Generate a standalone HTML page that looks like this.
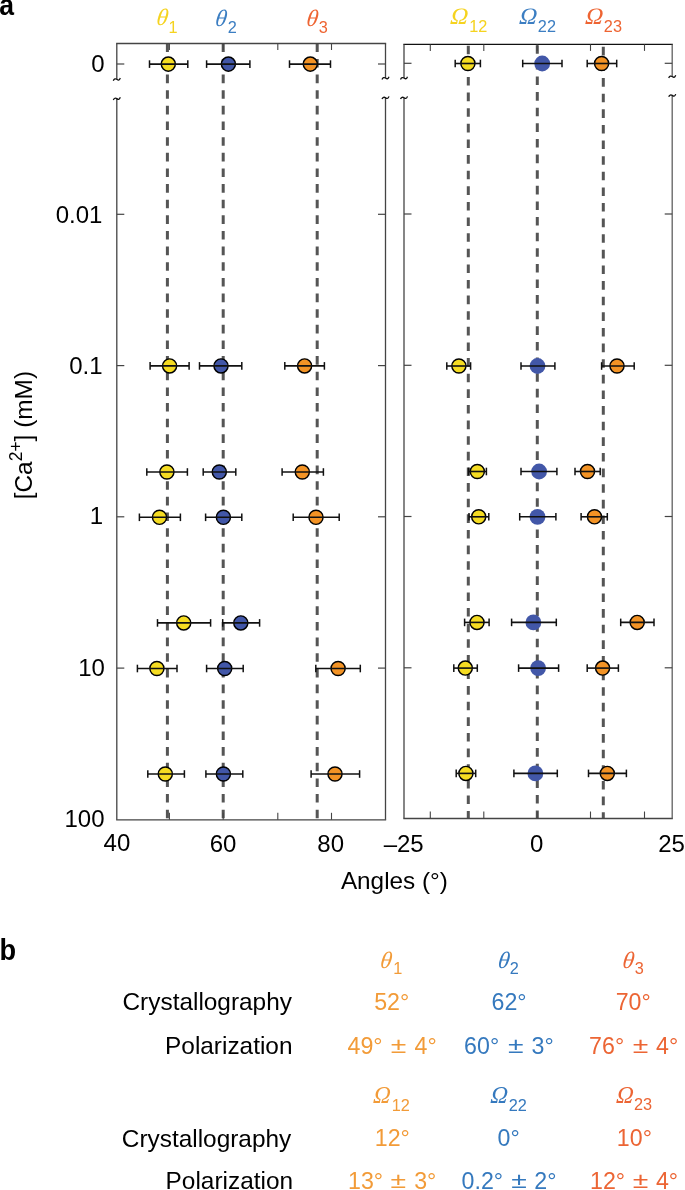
<!DOCTYPE html>
<html><head><meta charset="utf-8"><style>
html,body{margin:0;padding:0;background:#fff;}
body{width:685px;height:1190px;overflow:hidden;position:relative;}
svg{position:absolute;left:0;top:0;will-change:transform;}
.s{font-family:"Liberation Sans",sans-serif;}
.g{font-family:"Liberation Serif",serif;font-style:italic;}
</style></head><body>
<svg width="685" height="1190" viewBox="0 0 685 1190">
<text transform="translate(91.25,72.10)" class="s" font-size="24.00" fill="#000">0</text>
<text transform="translate(55.70,222.85)" class="s" font-size="24.00" fill="#000">0.01</text>
<text transform="translate(69.25,374.10)" class="s" font-size="24.00" fill="#000">0.1</text>
<text transform="translate(89.70,524.05)" class="s" font-size="24.00" fill="#000">1</text>
<text transform="translate(78.15,675.65)" class="s" font-size="24.00" fill="#000">10</text>
<text transform="translate(64.50,827.20)" class="s" font-size="24.00" fill="#000">100</text>
<text transform="translate(103.60,851.25)" class="s" font-size="24.00" fill="#000">40</text>
<text transform="translate(209.70,851.75)" class="s" font-size="24.00" fill="#000">60</text>
<text transform="translate(317.30,851.75)" class="s" font-size="24.00" fill="#000">80</text>
<text transform="translate(383.65,851.75)" class="s" font-size="24.00" fill="#000">–25</text>
<text transform="translate(530.00,851.75)" class="s" font-size="24.00" fill="#000">0</text>
<text transform="translate(658.25,851.75)" class="s" font-size="24.00" fill="#000">25</text>
<text transform="translate(340.90,888.50)" class="s" font-size="24.30" fill="#000">Angles (°)</text>
<text transform="translate(155.75,25.45) skewX(-8)" class="g" font-size="23.50" fill="#F5D31F">θ</text>
<text transform="translate(168.55,32.75)" class="s" font-size="16.30" fill="#F5D31F">1</text>
<text transform="translate(214.60,25.70) skewX(-8)" class="g" font-size="23.50" fill="#3C7EC2">θ</text>
<text transform="translate(227.85,33.00)" class="s" font-size="16.30" fill="#3C7EC2">2</text>
<text transform="translate(305.65,25.70) skewX(-8)" class="g" font-size="23.50" fill="#EE6432">θ</text>
<text transform="translate(318.80,33.30)" class="s" font-size="16.30" fill="#EE6432">3</text>
<text transform="translate(449.85,24.00) scale(1.050,1) skewX(-5)" class="g" font-size="23.50" fill="#F5D31F">Ω</text>
<text transform="translate(469.30,31.75)" class="s" font-size="16.30" fill="#F5D31F">12</text>
<text transform="translate(518.65,24.45) scale(1.050,1) skewX(-5)" class="g" font-size="23.50" fill="#3C7EC2">Ω</text>
<text transform="translate(537.85,31.80)" class="s" font-size="16.30" fill="#3C7EC2">22</text>
<text transform="translate(584.65,24.45) scale(1.050,1) skewX(-5)" class="g" font-size="23.50" fill="#EE6432">Ω</text>
<text transform="translate(603.85,31.80)" class="s" font-size="16.30" fill="#EE6432">23</text>
<text transform="translate(122.50,1010.25)" class="s" font-size="24.40" fill="#000">Crystallography</text>
<text transform="translate(165.05,1054.25)" class="s" font-size="24.40" fill="#000">Polarization</text>
<text transform="translate(121.80,1147.00)" class="s" font-size="24.40" fill="#000">Crystallography</text>
<text transform="translate(165.60,1189.25)" class="s" font-size="24.40" fill="#000">Polarization</text>
<text transform="translate(379.50,967.55) skewX(-8)" class="g" font-size="23.50" fill="#F29B38">θ</text>
<text transform="translate(393.30,974.40)" class="s" font-size="16.30" fill="#F29B38">1</text>
<text transform="translate(497.15,967.55) skewX(-8)" class="g" font-size="23.50" fill="#3579BE">θ</text>
<text transform="translate(509.80,974.25)" class="s" font-size="16.30" fill="#3579BE">2</text>
<text transform="translate(621.85,967.55) skewX(-8)" class="g" font-size="23.50" fill="#EC6534">θ</text>
<text transform="translate(634.75,974.25)" class="s" font-size="16.30" fill="#EC6534">3</text>
<text transform="translate(372.80,1102.50) scale(0.990,1) skewX(-5)" class="g" font-size="24.20" fill="#F29B38">Ω</text>
<text transform="translate(391.80,1110.80)" class="s" font-size="16.30" fill="#F29B38">12</text>
<text transform="translate(490.00,1102.70) scale(0.990,1) skewX(-5)" class="g" font-size="24.20" fill="#3579BE">Ω</text>
<text transform="translate(508.65,1110.75)" class="s" font-size="16.30" fill="#3579BE">22</text>
<text transform="translate(615.65,1102.70) scale(0.990,1) skewX(-5)" class="g" font-size="24.20" fill="#EC6534">Ω</text>
<text transform="translate(633.90,1110.45)" class="s" font-size="16.30" fill="#EC6534">23</text>
<text transform="translate(374.15,1010.40)" class="s" font-size="23.20" fill="#F29B38">52°</text>
<text transform="translate(491.55,1010.40)" class="s" font-size="23.20" fill="#3579BE">62°</text>
<text transform="translate(615.70,1010.40)" class="s" font-size="23.20" fill="#EC6534">70°</text>
<text transform="translate(347.50,1053.85)" class="s" font-size="23.20" fill="#F29B38">49°</text>
<text transform="translate(390.85,1053.05) scale(1.290,1)" class="s" font-size="22.00" fill="#F29B38">±</text>
<text transform="translate(414.55,1053.85)" class="s" font-size="23.20" fill="#F29B38">4°</text>
<text transform="translate(464.10,1053.85)" class="s" font-size="23.20" fill="#3579BE">60°</text>
<text transform="translate(507.95,1053.05) scale(1.290,1)" class="s" font-size="22.00" fill="#3579BE">±</text>
<text transform="translate(531.50,1053.85)" class="s" font-size="23.20" fill="#3579BE">3°</text>
<text transform="translate(589.10,1053.85)" class="s" font-size="23.20" fill="#EC6534">76°</text>
<text transform="translate(632.70,1053.05) scale(1.290,1)" class="s" font-size="22.00" fill="#EC6534">±</text>
<text transform="translate(656.10,1053.85)" class="s" font-size="23.20" fill="#EC6534">4°</text>
<text transform="translate(374.75,1146.45)" class="s" font-size="23.20" fill="#F29B38">12°</text>
<text transform="translate(497.55,1146.45)" class="s" font-size="23.20" fill="#3579BE">0°</text>
<text transform="translate(616.85,1146.45)" class="s" font-size="23.20" fill="#EC6534">10°</text>
<text transform="translate(348.00,1188.60)" class="s" font-size="23.20" fill="#F29B38">13°</text>
<text transform="translate(390.60,1187.80) scale(1.290,1)" class="s" font-size="22.00" fill="#F29B38">±</text>
<text transform="translate(414.20,1188.60)" class="s" font-size="23.20" fill="#F29B38">3°</text>
<text transform="translate(461.60,1188.60)" class="s" font-size="23.20" fill="#3579BE">0.2°</text>
<text transform="translate(511.25,1187.80) scale(1.290,1)" class="s" font-size="22.00" fill="#3579BE">±</text>
<text transform="translate(534.25,1188.60)" class="s" font-size="23.20" fill="#3579BE">2°</text>
<text transform="translate(590.00,1188.60)" class="s" font-size="23.20" fill="#EC6534">12°</text>
<text transform="translate(632.65,1187.80) scale(1.290,1)" class="s" font-size="22.00" fill="#EC6534">±</text>
<text transform="translate(655.90,1188.60)" class="s" font-size="23.20" fill="#EC6534">4°</text>
<text transform="translate(-0.8,15.4) scale(0.9,1)" class="s" font-size="29.5" font-weight="bold" fill="#000">a</text>
<text transform="translate(-0.6,960.4) scale(0.95,1)" class="s" font-size="28.6" font-weight="bold" fill="#000">b</text>
<text transform="translate(32,499.3) rotate(-90)" class="s" font-size="24.4" fill="#000">[Ca<tspan dy="-10" font-size="17.5">2+</tspan><tspan dy="10">] (mM)</tspan></text>
<line x1="167.4" y1="43.30" x2="167.4" y2="819.80" stroke="#555" stroke-width="3" stroke-dasharray="8.6 7.04"/>
<line x1="223.2" y1="43.30" x2="223.2" y2="819.80" stroke="#555" stroke-width="3" stroke-dasharray="8.6 7.04"/>
<line x1="317.2" y1="43.30" x2="317.2" y2="819.80" stroke="#555" stroke-width="3" stroke-dasharray="8.6 7.04"/>
<line x1="116.15" y1="43.50" x2="386.15" y2="43.50" stroke="#444" stroke-width="1.3"/>
<line x1="116.15" y1="819.80" x2="386.15" y2="819.80" stroke="#444" stroke-width="1.3"/>
<line x1="116.8" y1="43.50" x2="116.8" y2="79.30" stroke="#444" stroke-width="1.3"/>
<line x1="116.8" y1="98.60" x2="116.8" y2="819.80" stroke="#444" stroke-width="1.3"/>
<path d="M113.30,80.70 C114.10,78.80 115.50,78.40 116.80,79.30 S119.30,80.80 120.30,78.00" fill="none" stroke="#111" stroke-width="1.3"/>
<path d="M113.30,100.00 C114.10,98.10 115.50,97.70 116.80,98.60 S119.30,100.10 120.30,97.30" fill="none" stroke="#111" stroke-width="1.3"/>
<line x1="385.5" y1="43.50" x2="385.5" y2="78.00" stroke="#444" stroke-width="1.3"/>
<line x1="385.5" y1="97.70" x2="385.5" y2="819.80" stroke="#444" stroke-width="1.3"/>
<path d="M382.00,79.40 C382.80,77.50 384.20,77.10 385.50,78.00 S388.00,79.50 389.00,76.70" fill="none" stroke="#111" stroke-width="1.3"/>
<path d="M382.00,99.10 C382.80,97.20 384.20,96.80 385.50,97.70 S388.00,99.20 389.00,96.40" fill="none" stroke="#111" stroke-width="1.3"/>
<line x1="169.4" y1="43.50" x2="169.4" y2="50.00" stroke="#444" stroke-width="1.1"/>
<line x1="169.4" y1="819.80" x2="169.4" y2="812.80" stroke="#444" stroke-width="1.1"/>
<line x1="223.2" y1="43.50" x2="223.2" y2="50.00" stroke="#444" stroke-width="1.1"/>
<line x1="223.2" y1="819.80" x2="223.2" y2="812.80" stroke="#444" stroke-width="1.1"/>
<line x1="277.8" y1="43.50" x2="277.8" y2="50.00" stroke="#444" stroke-width="1.1"/>
<line x1="277.8" y1="819.80" x2="277.8" y2="812.80" stroke="#444" stroke-width="1.1"/>
<line x1="331.5" y1="43.50" x2="331.5" y2="50.00" stroke="#444" stroke-width="1.1"/>
<line x1="331.5" y1="819.80" x2="331.5" y2="812.80" stroke="#444" stroke-width="1.1"/>
<line x1="116.8" y1="64.00" x2="124.3" y2="64.00" stroke="#444" stroke-width="1.2"/>
<line x1="385.5" y1="64.00" x2="378" y2="64.00" stroke="#444" stroke-width="1.2"/>
<line x1="116.8" y1="214.30" x2="124.3" y2="214.30" stroke="#444" stroke-width="1.2"/>
<line x1="385.5" y1="214.30" x2="378" y2="214.30" stroke="#444" stroke-width="1.2"/>
<line x1="116.8" y1="365.60" x2="124.3" y2="365.60" stroke="#444" stroke-width="1.2"/>
<line x1="385.5" y1="365.60" x2="378" y2="365.60" stroke="#444" stroke-width="1.2"/>
<line x1="116.8" y1="516.80" x2="124.3" y2="516.80" stroke="#444" stroke-width="1.2"/>
<line x1="385.5" y1="516.80" x2="378" y2="516.80" stroke="#444" stroke-width="1.2"/>
<line x1="116.8" y1="668.10" x2="124.3" y2="668.10" stroke="#444" stroke-width="1.2"/>
<line x1="385.5" y1="668.10" x2="378" y2="668.10" stroke="#444" stroke-width="1.2"/>
<circle cx="168.3" cy="64.1" r="7.05" fill="#F5DC22" stroke="#000" stroke-width="1.45"/>
<line x1="149.5" y1="64.10" x2="187.8" y2="64.10" stroke="#111" stroke-width="1.6"/>
<line x1="149.5" y1="60.30" x2="149.5" y2="67.90" stroke="#111" stroke-width="1.5"/>
<line x1="187.8" y1="60.30" x2="187.8" y2="67.90" stroke="#111" stroke-width="1.5"/>
<circle cx="228.4" cy="64.1" r="7.05" fill="#4257A8" stroke="#000" stroke-width="1.45"/>
<line x1="206.6" y1="64.10" x2="249.9" y2="64.10" stroke="#111" stroke-width="1.6"/>
<line x1="206.6" y1="60.30" x2="206.6" y2="67.90" stroke="#111" stroke-width="1.5"/>
<line x1="249.9" y1="60.30" x2="249.9" y2="67.90" stroke="#111" stroke-width="1.5"/>
<circle cx="310.3" cy="64.1" r="7.05" fill="#F39325" stroke="#000" stroke-width="1.45"/>
<line x1="289.5" y1="64.10" x2="330.5" y2="64.10" stroke="#111" stroke-width="1.6"/>
<line x1="289.5" y1="60.30" x2="289.5" y2="67.90" stroke="#111" stroke-width="1.5"/>
<line x1="330.5" y1="60.30" x2="330.5" y2="67.90" stroke="#111" stroke-width="1.5"/>
<circle cx="169.6" cy="365.9" r="7.05" fill="#F5DC22" stroke="#000" stroke-width="1.45"/>
<line x1="150.1" y1="365.90" x2="189.1" y2="365.90" stroke="#111" stroke-width="1.6"/>
<line x1="150.1" y1="362.10" x2="150.1" y2="369.70" stroke="#111" stroke-width="1.5"/>
<line x1="189.1" y1="362.10" x2="189.1" y2="369.70" stroke="#111" stroke-width="1.5"/>
<circle cx="221" cy="365.9" r="7.05" fill="#4257A8" stroke="#000" stroke-width="1.45"/>
<line x1="199.5" y1="365.90" x2="241.8" y2="365.90" stroke="#111" stroke-width="1.6"/>
<line x1="199.5" y1="362.10" x2="199.5" y2="369.70" stroke="#111" stroke-width="1.5"/>
<line x1="241.8" y1="362.10" x2="241.8" y2="369.70" stroke="#111" stroke-width="1.5"/>
<circle cx="304.6" cy="365.9" r="7.05" fill="#F39325" stroke="#000" stroke-width="1.45"/>
<line x1="284.8" y1="365.90" x2="324.4" y2="365.90" stroke="#111" stroke-width="1.6"/>
<line x1="284.8" y1="362.10" x2="284.8" y2="369.70" stroke="#111" stroke-width="1.5"/>
<line x1="324.4" y1="362.10" x2="324.4" y2="369.70" stroke="#111" stroke-width="1.5"/>
<circle cx="166.9" cy="472" r="7.05" fill="#F5DC22" stroke="#000" stroke-width="1.45"/>
<line x1="146.8" y1="472.00" x2="187.4" y2="472.00" stroke="#111" stroke-width="1.6"/>
<line x1="146.8" y1="468.20" x2="146.8" y2="475.80" stroke="#111" stroke-width="1.5"/>
<line x1="187.4" y1="468.20" x2="187.4" y2="475.80" stroke="#111" stroke-width="1.5"/>
<circle cx="219.3" cy="472" r="7.05" fill="#4257A8" stroke="#000" stroke-width="1.45"/>
<line x1="203.2" y1="472.00" x2="235.8" y2="472.00" stroke="#111" stroke-width="1.6"/>
<line x1="203.2" y1="468.20" x2="203.2" y2="475.80" stroke="#111" stroke-width="1.5"/>
<line x1="235.8" y1="468.20" x2="235.8" y2="475.80" stroke="#111" stroke-width="1.5"/>
<circle cx="302.3" cy="472" r="7.05" fill="#F39325" stroke="#000" stroke-width="1.45"/>
<line x1="282.1" y1="472.00" x2="323.4" y2="472.00" stroke="#111" stroke-width="1.6"/>
<line x1="282.1" y1="468.20" x2="282.1" y2="475.80" stroke="#111" stroke-width="1.5"/>
<line x1="323.4" y1="468.20" x2="323.4" y2="475.80" stroke="#111" stroke-width="1.5"/>
<circle cx="159.5" cy="517.3" r="7.05" fill="#F5DC22" stroke="#000" stroke-width="1.45"/>
<line x1="139.4" y1="517.30" x2="180.4" y2="517.30" stroke="#111" stroke-width="1.6"/>
<line x1="139.4" y1="513.50" x2="139.4" y2="521.10" stroke="#111" stroke-width="1.5"/>
<line x1="180.4" y1="513.50" x2="180.4" y2="521.10" stroke="#111" stroke-width="1.5"/>
<circle cx="223.4" cy="517.3" r="7.05" fill="#4257A8" stroke="#000" stroke-width="1.45"/>
<line x1="205.6" y1="517.30" x2="241.8" y2="517.30" stroke="#111" stroke-width="1.6"/>
<line x1="205.6" y1="513.50" x2="205.6" y2="521.10" stroke="#111" stroke-width="1.5"/>
<line x1="241.8" y1="513.50" x2="241.8" y2="521.10" stroke="#111" stroke-width="1.5"/>
<circle cx="316" cy="517.3" r="7.05" fill="#F39325" stroke="#000" stroke-width="1.45"/>
<line x1="293.2" y1="517.30" x2="339.2" y2="517.30" stroke="#111" stroke-width="1.6"/>
<line x1="293.2" y1="513.50" x2="293.2" y2="521.10" stroke="#111" stroke-width="1.5"/>
<line x1="339.2" y1="513.50" x2="339.2" y2="521.10" stroke="#111" stroke-width="1.5"/>
<circle cx="183.7" cy="622.9" r="7.05" fill="#F5DC22" stroke="#000" stroke-width="1.45"/>
<line x1="157.5" y1="622.90" x2="210.6" y2="622.90" stroke="#111" stroke-width="1.6"/>
<line x1="157.5" y1="619.10" x2="157.5" y2="626.70" stroke="#111" stroke-width="1.5"/>
<line x1="210.6" y1="619.10" x2="210.6" y2="626.70" stroke="#111" stroke-width="1.5"/>
<circle cx="240.8" cy="622.9" r="7.05" fill="#4257A8" stroke="#000" stroke-width="1.45"/>
<line x1="222.7" y1="622.90" x2="259.6" y2="622.90" stroke="#111" stroke-width="1.6"/>
<line x1="222.7" y1="619.10" x2="222.7" y2="626.70" stroke="#111" stroke-width="1.5"/>
<line x1="259.6" y1="619.10" x2="259.6" y2="626.70" stroke="#111" stroke-width="1.5"/>
<circle cx="156.9" cy="668.5" r="7.05" fill="#F5DC22" stroke="#000" stroke-width="1.45"/>
<line x1="137.4" y1="668.50" x2="177" y2="668.50" stroke="#111" stroke-width="1.6"/>
<line x1="137.4" y1="664.70" x2="137.4" y2="672.30" stroke="#111" stroke-width="1.5"/>
<line x1="177" y1="664.70" x2="177" y2="672.30" stroke="#111" stroke-width="1.5"/>
<circle cx="224.7" cy="668.5" r="7.05" fill="#4257A8" stroke="#000" stroke-width="1.45"/>
<line x1="206.6" y1="668.50" x2="243.2" y2="668.50" stroke="#111" stroke-width="1.6"/>
<line x1="206.6" y1="664.70" x2="206.6" y2="672.30" stroke="#111" stroke-width="1.5"/>
<line x1="243.2" y1="664.70" x2="243.2" y2="672.30" stroke="#111" stroke-width="1.5"/>
<circle cx="338.1" cy="668.5" r="7.05" fill="#F39325" stroke="#000" stroke-width="1.45"/>
<line x1="315.8" y1="668.50" x2="360.3" y2="668.50" stroke="#111" stroke-width="1.6"/>
<line x1="315.8" y1="664.70" x2="315.8" y2="672.30" stroke="#111" stroke-width="1.5"/>
<line x1="360.3" y1="664.70" x2="360.3" y2="672.30" stroke="#111" stroke-width="1.5"/>
<circle cx="165.3" cy="774" r="7.05" fill="#F5DC22" stroke="#000" stroke-width="1.45"/>
<line x1="147.8" y1="774.00" x2="184.4" y2="774.00" stroke="#111" stroke-width="1.6"/>
<line x1="147.8" y1="770.20" x2="147.8" y2="777.80" stroke="#111" stroke-width="1.5"/>
<line x1="184.4" y1="770.20" x2="184.4" y2="777.80" stroke="#111" stroke-width="1.5"/>
<circle cx="223.4" cy="774" r="7.05" fill="#4257A8" stroke="#000" stroke-width="1.45"/>
<line x1="205.9" y1="774.00" x2="242.8" y2="774.00" stroke="#111" stroke-width="1.6"/>
<line x1="205.9" y1="770.20" x2="205.9" y2="777.80" stroke="#111" stroke-width="1.5"/>
<line x1="242.8" y1="770.20" x2="242.8" y2="777.80" stroke="#111" stroke-width="1.5"/>
<circle cx="335" cy="774" r="7.05" fill="#F39325" stroke="#000" stroke-width="1.45"/>
<line x1="311.1" y1="774.00" x2="359.6" y2="774.00" stroke="#111" stroke-width="1.6"/>
<line x1="311.1" y1="770.20" x2="311.1" y2="777.80" stroke="#111" stroke-width="1.5"/>
<line x1="359.6" y1="770.20" x2="359.6" y2="777.80" stroke="#111" stroke-width="1.5"/>
<line x1="468.3" y1="45.70" x2="468.3" y2="818.50" stroke="#555" stroke-width="3" stroke-dasharray="8.6 7.02"/>
<line x1="537.3" y1="45.20" x2="537.3" y2="818.50" stroke="#555" stroke-width="3" stroke-dasharray="8.6 7.02"/>
<line x1="603.3" y1="46.80" x2="603.3" y2="818.50" stroke="#555" stroke-width="3" stroke-dasharray="8.6 7.02"/>
<line x1="403.35" y1="44.40" x2="672.85" y2="44.40" stroke="#111" stroke-width="1.3"/>
<line x1="403.35" y1="818.50" x2="672.85" y2="818.50" stroke="#444" stroke-width="1.3"/>
<line x1="404" y1="44.40" x2="404" y2="78.00" stroke="#444" stroke-width="1.3"/>
<line x1="404" y1="97.70" x2="404" y2="818.50" stroke="#444" stroke-width="1.3"/>
<path d="M400.50,79.40 C401.30,77.50 402.70,77.10 404.00,78.00 S406.50,79.50 407.50,76.70" fill="none" stroke="#111" stroke-width="1.3"/>
<path d="M400.50,99.10 C401.30,97.20 402.70,96.80 404.00,97.70 S406.50,99.20 407.50,96.40" fill="none" stroke="#111" stroke-width="1.3"/>
<line x1="672.2" y1="44.40" x2="672.2" y2="76.50" stroke="#606060" stroke-width="1.3"/>
<line x1="672.2" y1="95.40" x2="672.2" y2="818.50" stroke="#606060" stroke-width="1.3"/>
<path d="M668.70,77.90 C669.50,76.00 670.90,75.60 672.20,76.50 S674.70,78.00 675.70,75.20" fill="none" stroke="#111" stroke-width="1.3"/>
<path d="M668.70,96.80 C669.50,94.90 670.90,94.50 672.20,95.40 S674.70,96.90 675.70,94.10" fill="none" stroke="#111" stroke-width="1.3"/>
<line x1="430.3" y1="44.40" x2="430.3" y2="50.90" stroke="#444" stroke-width="1.1"/>
<line x1="430.3" y1="818.50" x2="430.3" y2="811.50" stroke="#444" stroke-width="1.1"/>
<line x1="483.8" y1="44.40" x2="483.8" y2="50.90" stroke="#444" stroke-width="1.1"/>
<line x1="483.8" y1="818.50" x2="483.8" y2="811.50" stroke="#444" stroke-width="1.1"/>
<line x1="537.2" y1="44.40" x2="537.2" y2="50.90" stroke="#444" stroke-width="1.1"/>
<line x1="537.2" y1="818.50" x2="537.2" y2="811.50" stroke="#444" stroke-width="1.1"/>
<line x1="590.5" y1="44.40" x2="590.5" y2="50.90" stroke="#444" stroke-width="1.1"/>
<line x1="590.5" y1="818.50" x2="590.5" y2="811.50" stroke="#444" stroke-width="1.1"/>
<line x1="644.5" y1="44.40" x2="644.5" y2="50.90" stroke="#444" stroke-width="1.1"/>
<line x1="644.5" y1="818.50" x2="644.5" y2="811.50" stroke="#444" stroke-width="1.1"/>
<line x1="404" y1="63.30" x2="411.5" y2="63.30" stroke="#444" stroke-width="1.2"/>
<line x1="672.2" y1="63.30" x2="664.7" y2="63.30" stroke="#444" stroke-width="1.2"/>
<line x1="404" y1="214.00" x2="411.5" y2="214.00" stroke="#444" stroke-width="1.2"/>
<line x1="672.2" y1="214.00" x2="664.7" y2="214.00" stroke="#444" stroke-width="1.2"/>
<line x1="404" y1="365.30" x2="411.5" y2="365.30" stroke="#444" stroke-width="1.2"/>
<line x1="672.2" y1="365.30" x2="664.7" y2="365.30" stroke="#444" stroke-width="1.2"/>
<line x1="404" y1="516.50" x2="411.5" y2="516.50" stroke="#444" stroke-width="1.2"/>
<line x1="672.2" y1="516.50" x2="664.7" y2="516.50" stroke="#444" stroke-width="1.2"/>
<line x1="404" y1="667.80" x2="411.5" y2="667.80" stroke="#444" stroke-width="1.2"/>
<line x1="672.2" y1="667.80" x2="664.7" y2="667.80" stroke="#444" stroke-width="1.2"/>
<circle cx="467.9" cy="63.5" r="7.05" fill="#F5DC22" stroke="#000" stroke-width="1.45"/>
<line x1="455.2" y1="63.50" x2="480.4" y2="63.50" stroke="#111" stroke-width="1.6"/>
<line x1="455.2" y1="59.70" x2="455.2" y2="67.30" stroke="#111" stroke-width="1.5"/>
<line x1="480.4" y1="59.70" x2="480.4" y2="67.30" stroke="#111" stroke-width="1.5"/>
<circle cx="542.2" cy="63.5" r="7.9" fill="#4257A8"/>
<line x1="522.7" y1="63.50" x2="562" y2="63.50" stroke="#111" stroke-width="1.6"/>
<line x1="522.7" y1="59.70" x2="522.7" y2="67.30" stroke="#111" stroke-width="1.5"/>
<line x1="562" y1="59.70" x2="562" y2="67.30" stroke="#111" stroke-width="1.5"/>
<circle cx="601.6" cy="63.5" r="7.05" fill="#F39325" stroke="#000" stroke-width="1.45"/>
<line x1="587.2" y1="63.50" x2="616.7" y2="63.50" stroke="#111" stroke-width="1.6"/>
<line x1="587.2" y1="59.70" x2="587.2" y2="67.30" stroke="#111" stroke-width="1.5"/>
<line x1="616.7" y1="59.70" x2="616.7" y2="67.30" stroke="#111" stroke-width="1.5"/>
<circle cx="458.9" cy="366.0" r="7.05" fill="#F5DC22" stroke="#000" stroke-width="1.45"/>
<line x1="446.8" y1="366.00" x2="470.6" y2="366.00" stroke="#111" stroke-width="1.6"/>
<line x1="446.8" y1="362.20" x2="446.8" y2="369.80" stroke="#111" stroke-width="1.5"/>
<line x1="470.6" y1="362.20" x2="470.6" y2="369.80" stroke="#111" stroke-width="1.5"/>
<circle cx="537.5" cy="366.0" r="7.9" fill="#4257A8"/>
<line x1="521" y1="366.00" x2="554.9" y2="366.00" stroke="#111" stroke-width="1.6"/>
<line x1="521" y1="362.20" x2="521" y2="369.80" stroke="#111" stroke-width="1.5"/>
<line x1="554.9" y1="362.20" x2="554.9" y2="369.80" stroke="#111" stroke-width="1.5"/>
<circle cx="617" cy="366.0" r="7.05" fill="#F39325" stroke="#000" stroke-width="1.45"/>
<line x1="601.6" y1="366.00" x2="634.2" y2="366.00" stroke="#111" stroke-width="1.6"/>
<line x1="601.6" y1="362.20" x2="601.6" y2="369.80" stroke="#111" stroke-width="1.5"/>
<line x1="634.2" y1="362.20" x2="634.2" y2="369.80" stroke="#111" stroke-width="1.5"/>
<circle cx="477.3" cy="471.5" r="7.05" fill="#F5DC22" stroke="#000" stroke-width="1.45"/>
<line x1="468.6" y1="471.50" x2="486.4" y2="471.50" stroke="#111" stroke-width="1.6"/>
<line x1="468.6" y1="467.70" x2="468.6" y2="475.30" stroke="#111" stroke-width="1.5"/>
<line x1="486.4" y1="467.70" x2="486.4" y2="475.30" stroke="#111" stroke-width="1.5"/>
<circle cx="539.1" cy="471.5" r="7.9" fill="#4257A8"/>
<line x1="521" y1="471.50" x2="556.9" y2="471.50" stroke="#111" stroke-width="1.6"/>
<line x1="521" y1="467.70" x2="521" y2="475.30" stroke="#111" stroke-width="1.5"/>
<line x1="556.9" y1="467.70" x2="556.9" y2="475.30" stroke="#111" stroke-width="1.5"/>
<circle cx="587.5" cy="471.5" r="7.05" fill="#F39325" stroke="#000" stroke-width="1.45"/>
<line x1="575" y1="471.50" x2="600.2" y2="471.50" stroke="#111" stroke-width="1.6"/>
<line x1="575" y1="467.70" x2="575" y2="475.30" stroke="#111" stroke-width="1.5"/>
<line x1="600.2" y1="467.70" x2="600.2" y2="475.30" stroke="#111" stroke-width="1.5"/>
<circle cx="478.7" cy="516.8" r="7.05" fill="#F5DC22" stroke="#000" stroke-width="1.45"/>
<line x1="469" y1="516.80" x2="488.8" y2="516.80" stroke="#111" stroke-width="1.6"/>
<line x1="469" y1="513.00" x2="469" y2="520.60" stroke="#111" stroke-width="1.5"/>
<line x1="488.8" y1="513.00" x2="488.8" y2="520.60" stroke="#111" stroke-width="1.5"/>
<circle cx="537.5" cy="516.8" r="7.9" fill="#4257A8"/>
<line x1="519.7" y1="516.80" x2="555.9" y2="516.80" stroke="#111" stroke-width="1.6"/>
<line x1="519.7" y1="513.00" x2="519.7" y2="520.60" stroke="#111" stroke-width="1.5"/>
<line x1="555.9" y1="513.00" x2="555.9" y2="520.60" stroke="#111" stroke-width="1.5"/>
<circle cx="594.5" cy="516.8" r="7.05" fill="#F39325" stroke="#000" stroke-width="1.45"/>
<line x1="581.1" y1="516.80" x2="607.3" y2="516.80" stroke="#111" stroke-width="1.6"/>
<line x1="581.1" y1="513.00" x2="581.1" y2="520.60" stroke="#111" stroke-width="1.5"/>
<line x1="607.3" y1="513.00" x2="607.3" y2="520.60" stroke="#111" stroke-width="1.5"/>
<circle cx="477" cy="622.4" r="7.05" fill="#F5DC22" stroke="#000" stroke-width="1.45"/>
<line x1="464.6" y1="622.40" x2="489.1" y2="622.40" stroke="#111" stroke-width="1.6"/>
<line x1="464.6" y1="618.60" x2="464.6" y2="626.20" stroke="#111" stroke-width="1.5"/>
<line x1="489.1" y1="618.60" x2="489.1" y2="626.20" stroke="#111" stroke-width="1.5"/>
<circle cx="533.4" cy="622.4" r="7.9" fill="#4257A8"/>
<line x1="511.6" y1="622.40" x2="556.3" y2="622.40" stroke="#111" stroke-width="1.6"/>
<line x1="511.6" y1="618.60" x2="511.6" y2="626.20" stroke="#111" stroke-width="1.5"/>
<line x1="556.3" y1="618.60" x2="556.3" y2="626.20" stroke="#111" stroke-width="1.5"/>
<circle cx="637.2" cy="622.4" r="7.05" fill="#F39325" stroke="#000" stroke-width="1.45"/>
<line x1="620.7" y1="622.40" x2="654" y2="622.40" stroke="#111" stroke-width="1.6"/>
<line x1="620.7" y1="618.60" x2="620.7" y2="626.20" stroke="#111" stroke-width="1.5"/>
<line x1="654" y1="618.60" x2="654" y2="626.20" stroke="#111" stroke-width="1.5"/>
<circle cx="465.3" cy="668.1" r="7.05" fill="#F5DC22" stroke="#000" stroke-width="1.45"/>
<line x1="453.8" y1="668.10" x2="477.3" y2="668.10" stroke="#111" stroke-width="1.6"/>
<line x1="453.8" y1="664.30" x2="453.8" y2="671.90" stroke="#111" stroke-width="1.5"/>
<line x1="477.3" y1="664.30" x2="477.3" y2="671.90" stroke="#111" stroke-width="1.5"/>
<circle cx="538.1" cy="668.1" r="7.9" fill="#4257A8"/>
<line x1="518.6" y1="668.10" x2="558.6" y2="668.10" stroke="#111" stroke-width="1.6"/>
<line x1="518.6" y1="664.30" x2="518.6" y2="671.90" stroke="#111" stroke-width="1.5"/>
<line x1="558.6" y1="664.30" x2="558.6" y2="671.90" stroke="#111" stroke-width="1.5"/>
<circle cx="602.6" cy="668.1" r="7.05" fill="#F39325" stroke="#000" stroke-width="1.45"/>
<line x1="587.2" y1="668.10" x2="618.4" y2="668.10" stroke="#111" stroke-width="1.6"/>
<line x1="587.2" y1="664.30" x2="587.2" y2="671.90" stroke="#111" stroke-width="1.5"/>
<line x1="618.4" y1="664.30" x2="618.4" y2="671.90" stroke="#111" stroke-width="1.5"/>
<circle cx="465.9" cy="773.4" r="7.05" fill="#F5DC22" stroke="#000" stroke-width="1.45"/>
<line x1="456.2" y1="773.40" x2="475.7" y2="773.40" stroke="#111" stroke-width="1.6"/>
<line x1="456.2" y1="769.60" x2="456.2" y2="777.20" stroke="#111" stroke-width="1.5"/>
<line x1="475.7" y1="769.60" x2="475.7" y2="777.20" stroke="#111" stroke-width="1.5"/>
<circle cx="535.4" cy="773.4" r="7.9" fill="#4257A8"/>
<line x1="513.9" y1="773.40" x2="557.3" y2="773.40" stroke="#111" stroke-width="1.6"/>
<line x1="513.9" y1="769.60" x2="513.9" y2="777.20" stroke="#111" stroke-width="1.5"/>
<line x1="557.3" y1="769.60" x2="557.3" y2="777.20" stroke="#111" stroke-width="1.5"/>
<circle cx="607.3" cy="773.4" r="7.05" fill="#F39325" stroke="#000" stroke-width="1.45"/>
<line x1="588.5" y1="773.40" x2="626.4" y2="773.40" stroke="#111" stroke-width="1.6"/>
<line x1="588.5" y1="769.60" x2="588.5" y2="777.20" stroke="#111" stroke-width="1.5"/>
<line x1="626.4" y1="769.60" x2="626.4" y2="777.20" stroke="#111" stroke-width="1.5"/>
</svg>
</body></html>
